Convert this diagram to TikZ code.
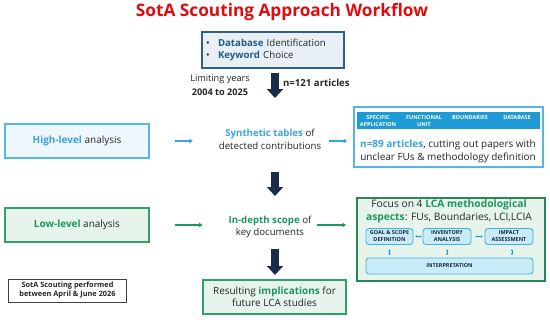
\documentclass[tikz,border=0pt]{standalone}
\usepackage{fontspec}
\setmainfont{Open Sans}
\usetikzlibrary{arrows.meta}
\definecolor{titlered}{RGB}{222,12,12}
\definecolor{dbborder}{RGB}{47,95,130}
\definecolor{dbfill}{RGB}{232,239,245}
\definecolor{dbtext}{RGB}{31,92,140}
\definecolor{hiborder}{RGB}{84,181,230}
\definecolor{hifill}{RGB}{238,247,252}
\definecolor{hitext}{RGB}{56,163,220}
\definecolor{bandblue}{RGB}{30,155,215}
\definecolor{loborder}{RGB}{46,160,105}
\definecolor{lofill}{RGB}{230,244,236}
\definecolor{lotext}{RGB}{30,150,95}
\definecolor{lcaborder}{RGB}{40,135,85}
\definecolor{navyarr}{RGB}{27,45,70}
\definecolor{smallfill}{RGB}{200,236,248}
\definecolor{smallborder}{RGB}{70,175,225}
\definecolor{txt}{RGB}{38,38,38}
\definecolor{smalltxt}{RGB}{25,40,60}
\newcommand{\fs}[2]{\fontsize{#1}{#2}\selectfont}
\begin{document}
\begin{tikzpicture}[x=1bp,y=-1bp,
  every node/.style={inner sep=0pt, outer sep=0pt, text=txt},
  bigbox/.style={draw, line width=1.2bp, minimum width=144bp, minimum height=34bp, font=\fs{10}{12}},
  hibox/.style={bigbox, draw=hiborder, fill=hifill},
  lobox/.style={bigbox, draw=loborder, fill=lofill},
  bandtxt/.style={text=white, font=\fs{5.5}{7}\bfseries, align=center},
  smallbox/.style={draw=smallborder, fill=smallfill, line width=0.9bp, rounded corners=3bp, minimum height=16bp, font=\fs{5.5}{7}\bfseries, text=smalltxt, align=center},
  bigarrow/.style={draw=navyarr, line width=8bp, -{Triangle[length=9bp,width=16bp]}, color=navyarr},
  bluearr/.style={draw=hitext, line width=1.4bp, -{Triangle[length=3.5bp,width=4.5bp]}},
  greenarr/.style={draw=lotext, line width=1.4bp, -{Triangle[length=3.5bp,width=4.5bp]}},
  tinyarr/.style={draw=bandblue, line width=0.9bp, {Triangle[length=1.6bp,width=2.4bp]}-{Triangle[length=1.6bp,width=2.4bp]}},
]
\useasboundingbox (0,0) rectangle (550,319);

% title
\node[font=\fs{17.3}{20}\bfseries, text=titlered] (title) at (282,12) {SotA Scouting Approach Workflow};

% database box
\node[draw=dbborder, fill=dbfill, line width=1.2bp, minimum width=142bp, minimum height=36bp,
      text width=134bp, align=left, font=\fs{9.7}{11.5}] (db) at (273,50)
  {\makebox[12bp][l]{\textbullet}\textcolor{dbtext}{\bfseries Database} Identification\\
   \makebox[12bp][l]{\textbullet}\textcolor{dbtext}{\bfseries Keyword} Choice};

% limiting years
\node[align=center, font=\fs{9.2}{14}] (lim) at (220,85) {Limiting years\\\textbf{2004 to 2025}};
\node[anchor=west, font=\fs{9.7}{12}\bfseries] (n121) at (283,83) {n=121 articles};
\coordinate (a1s) at (275,73);
\coordinate (a1e) at (275,98);
\draw[bigarrow] (a1s) -- (a1e);

% high level row
\node[hibox] (high) at (77,141) {\textcolor{hitext}{\bfseries High-level} analysis};
\node[align=center, font=\fs{9.7}{13}] (synth) at (270,139)
  {\textcolor{hitext}{\bfseries Synthetic tables} of\\detected contributions};
\draw[bluearr, shorten <=26bp, shorten >=26bp] (high.east) -- (high.east -| synth.west);

\node[draw=hiborder, fill=white, line width=1.2bp, minimum width=189bp, minimum height=60bp] (fu) at (448.5,137) {};
\node[fill=bandblue, minimum width=183bp, minimum height=17bp] (band) at (448.5,120.5) {};
\node[bandtxt] (b1) at (378,121.5) {SPECIFIC\\APPLICATION};
\node[bandtxt] (b2) at (424,121.5) {FUNCTIONAL\\UNIT};
\node[bandtxt] (b3) at (470,118) {BOUNDARIES};
\node[bandtxt] (b4) at (517,118) {DATABASE};
\node[align=center, font=\fs{10}{13}] (n89) at (448,151.5)
  {\textcolor{hitext}{\bfseries n=89 articles}, cutting out papers with\\unclear FUs \& methodology definition};
\draw[bluearr, shorten <=8bp, shorten >=7bp] (synth.east |- high.east) -- (fu.west |- high.east);

\coordinate (a2s) at (275,172);
\coordinate (a2e) at (275,196);
\draw[bigarrow] (a2s) -- (a2e);

% low level row
\node[lobox] (low) at (77,225) {\textcolor{lotext}{\bfseries Low-level} analysis};
\node[align=center, font=\fs{9.7}{12}] (indepth) at (270,227)
  {\textcolor{lotext}{\bfseries In-depth scope} of\\key documents};
\draw[greenarr, shorten <=26bp, shorten >=26bp] (low.east) -- (low.east -| indepth.west);

\node[draw=lcaborder, fill=lofill, line width=1.2bp, minimum width=188bp, minimum height=83bp] (lca) at (451,239.5) {};
\node[align=center, font=\fs{10.3}{13}] (focus) at (449,211.5)
  {Focus on 4 \textcolor{lotext}{\bfseries LCA methodological}\\\textcolor{lotext}{\bfseries aspects}: FUs, Boundaries, LCI,LCIA};
\draw[greenarr, shorten <=6bp, shorten >=11bp] (indepth.east |- low.east) -- (lca.west |- low.east);

\node[smallbox, minimum width=47bp] (goal) at (389.5,236.5) {GOAL \& SCOPE\\DEFINITION};
\node[smallbox, minimum width=48bp] (inv) at (447,236.5) {INVENTORY\\ANALYSIS};
\node[smallbox, minimum width=48bp] (imp) at (509,236.5) {IMPACT\\ASSESSMENT};
\node[smallbox, minimum width=167bp] (interp) at (449.5,266) {INTERPRETATION};
\draw[tinyarr, shorten <=2.5bp, shorten >=1.5bp] (goal) -- (inv);
\draw[tinyarr, shorten <=4.5bp, shorten >=2.5bp] (inv) -- (imp);
\draw[tinyarr, shorten <=5bp, shorten >=3bp] (goal.south) -- (goal.south |- interp.north);
\draw[tinyarr, shorten <=5bp, shorten >=3bp] (inv.south) -- (inv.south |- interp.north);
\draw[tinyarr, shorten <=5bp, shorten >=3bp] ([xshift=3bp]imp.south) -- ([xshift=3bp]imp.south |- interp.north);

\coordinate (a3s) at (275,249);
\coordinate (a3e) at (275,275);
\draw[bigarrow] (a3s) -- (a3e);

% bottom
\node[draw=black!75, fill=white, line width=1bp, minimum width=117bp, minimum height=23bp,
      align=center, font=\fs{7.4}{9}\bfseries] (sota) at (67.5,290.5)
  {SotA Scouting performed\\between April \& June 2026};
\node[lobox, minimum width=143bp, align=center] (res) at (274.5,297)
  {Resulting \textcolor{lotext}{\bfseries implications} for\\future LCA studies};
\end{tikzpicture}
\end{document}
